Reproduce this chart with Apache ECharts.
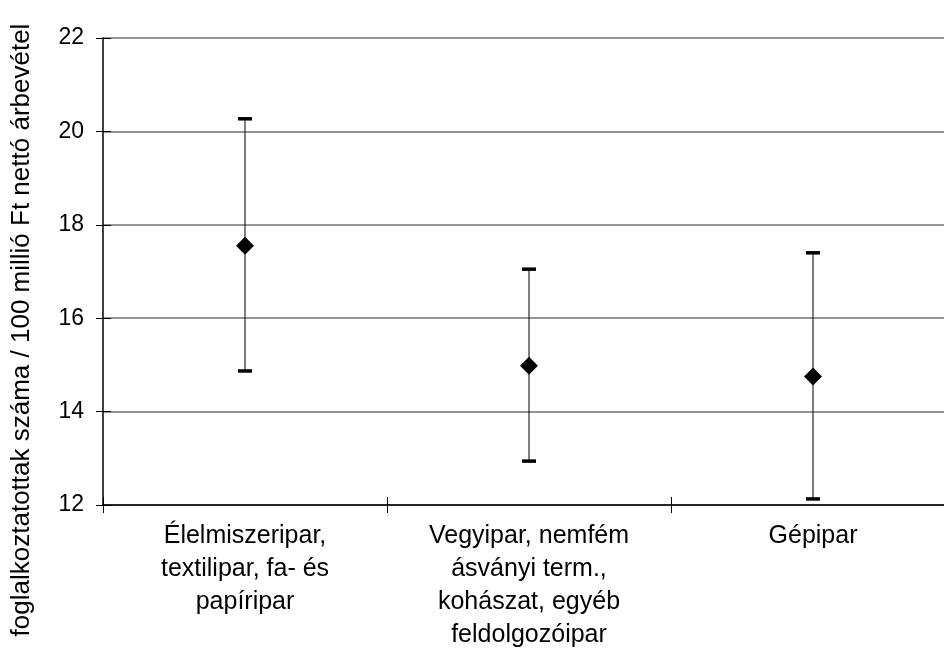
<!DOCTYPE html>
<html><head><meta charset="utf-8">
<script src="https://cdn.jsdelivr.net/npm/echarts@6/dist/echarts.min.js"></script>
<style>html,body{margin:0;padding:0;background:#fff;overflow:hidden}#c{width:955px;height:648px}</style>
</head><body><div id="c"></div>
<script>
const categories = ['Élelmiszeripar,\ntextilipar, fa- és\npapíripar', 'Vegyipar, nemfém\násványi term.,\nkohászat, egyéb\nfeldolgozóipar', 'Gépipar'];
const means = [17.55, 14.98, 14.75];
const lows = [14.87, 12.94, 12.13];
const highs = [20.27, 17.05, 17.4];
const yTitle = 'foglalkoztatottak száma / 100 millió Ft nettó árbevétel';
const FONT = '"Liberation Sans", Arial, sans-serif';

const chart = echarts.init(document.getElementById('c'), null, {renderer: 'canvas'});
const errData = categories.map((c, i) => [i, lows[i], highs[i]]);
chart.setOption({
  animation: false,
  grid: {left: 103, top: 38, right: 0, bottom: 143, containLabel: false, outerBoundsMode: 'none'},
  xAxis: [{
    type: 'category', data: categories, boundaryGap: true,
    axisLine: {lineStyle: {color: '#000', width: 1.5}},
    axisTick: {show: true, length: 8, inside: false, lineStyle: {color: '#000', width: 1}},
    axisLabel: {fontFamily: FONT, fontSize: 25, color: '#000', lineHeight: 33, margin: 15, interval: 0},
    splitLine: {show: false}
  }, {
    type: 'category', data: categories, boundaryGap: true, position: 'bottom',
    axisLine: {show: false},
    axisTick: {show: true, length: 8, inside: true, lineStyle: {color: '#000', width: 1}},
    axisLabel: {show: false}, splitLine: {show: false}
  }],
  yAxis: [{
    type: 'value', min: 12, max: 22, interval: 2,
    axisLine: {show: true, lineStyle: {color: '#000', width: 1.5}},
    axisTick: {show: true, length: 7, inside: false, lineStyle: {color: '#000', width: 1}},
    axisLabel: {fontFamily: FONT, fontSize: 23, color: '#000', margin: 19},
    splitLine: {show: true, lineStyle: {color: '#959595', width: 2}}
  }, {
    type: 'value', min: 12, max: 22, interval: 2, position: 'left', offset: 0,
    axisLine: {show: true, onZero: false, lineStyle: {color: 'rgba(0,0,0,0)', width: 0}},
    axisTick: {show: true, length: 8, inside: true, lineStyle: {color: '#000', width: 1}},
    axisLabel: {show: false}, splitLine: {show: false}
  }],
  graphic: [{
    type: 'text',
    x: 22, y: 330,
    rotation: Math.PI / 2,
    style: {text: yTitle, font: '26px ' + FONT, fill: '#000', align: 'center', verticalAlign: 'middle'}
  }],
  series: [{
    type: 'custom',
    data: errData,
    z: 2,
    renderItem: function (params, api) {
      const x = api.value(0);
      const lo = api.coord([x, api.value(1)]);
      const hi = api.coord([x, api.value(2)]);
      const cw = 7;
      return {
        type: 'group',
        children: [
          {type: 'line', shape: {x1: lo[0], y1: lo[1], x2: hi[0], y2: hi[1]}, style: {stroke: '#000', lineWidth: 1}},
          {type: 'line', shape: {x1: lo[0] - cw, y1: lo[1], x2: lo[0] + cw, y2: lo[1]}, style: {stroke: '#000', lineWidth: 3.5}},
          {type: 'line', shape: {x1: hi[0] - cw, y1: hi[1], x2: hi[0] + cw, y2: hi[1]}, style: {stroke: '#000', lineWidth: 3.5}}
        ]
      };
    }
  }, {
    type: 'scatter',
    data: means,
    symbol: 'diamond',
    symbolSize: 18,
    z: 3,
    itemStyle: {color: '#000', opacity: 1}
  }]
});
</script>
</body></html>
